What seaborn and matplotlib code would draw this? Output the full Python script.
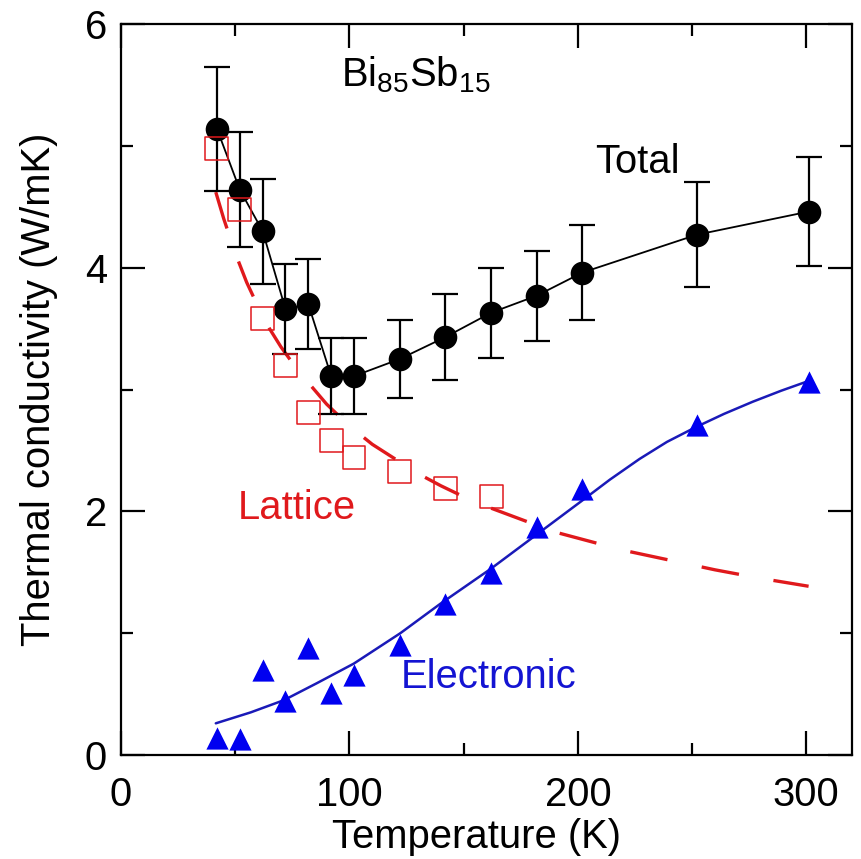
import matplotlib
matplotlib.use("Agg")
import matplotlib.pyplot as plt
import seaborn as sns
import numpy as np
import pandas as pd
from matplotlib.ticker import MultipleLocator

# ---------------- data ----------------
temperature = [42, 52, 62, 72, 82, 92, 102, 122, 142, 162, 182, 202, 252, 301]
total = [5.14, 4.64, 4.30, 3.66, 3.70, 3.11, 3.11, 3.25, 3.43, 3.63, 3.77, 3.96, 4.27, 4.46]
total_err = [0.51, 0.47, 0.43, 0.37, 0.37, 0.31, 0.31, 0.32, 0.35, 0.37, 0.37, 0.39, 0.43, 0.45]

lattice_T = [42, 52, 62, 72, 82, 92, 102, 122, 142, 162]
lattice = [4.98, 4.48, 3.58, 3.20, 2.81, 2.58, 2.44, 2.33, 2.19, 2.12]

electronic = [0.14, 0.13, 0.70, 0.44, 0.88, 0.51, 0.66, 0.90, 1.24, 1.49, 1.87, 2.18, 2.71, 3.06]

# fitted curves
lat_fit_T = [41.5, 45, 50, 55, 60, 65, 70, 75, 80, 90, 100, 110, 120, 130, 140, 150,
             160, 170, 180, 190, 200, 220, 240, 260, 280, 301]
lat_fit = [4.62, 4.40, 4.12, 3.88, 3.68, 3.50, 3.35, 3.22, 3.10, 2.88, 2.70, 2.55, 2.43,
           2.31, 2.21, 2.12, 2.04, 1.97, 1.90, 1.83, 1.78, 1.68, 1.60, 1.52, 1.45, 1.385]

ele_fit_T = [41.5, 56.8, 71.3, 85.8, 101.9, 122.3, 139.7, 162, 182, 202, 214, 227, 239,
             251.5, 264, 276.6, 289, 301]
ele_fit = [0.26, 0.35, 0.45, 0.59, 0.75, 1.00, 1.24, 1.53, 1.81, 2.09, 2.26, 2.43, 2.57,
           2.69, 2.80, 2.90, 2.99, 3.07]

xticks_major = [0, 100, 200, 300]
yticks_major = [0, 2, 4, 6]

# ---------------- style ----------------
sns.set_theme(style="ticks")
plt.rcParams['font.family'] = ['Liberation Sans', 'DejaVu Sans']
plt.rcParams['mathtext.fontset'] = 'custom'
plt.rcParams['mathtext.rm'] = 'Liberation Sans'
plt.rcParams['mathtext.it'] = 'Liberation Sans:italic'
plt.rcParams['mathtext.bf'] = 'Liberation Sans:bold'
plt.rcParams['mathtext.default'] = 'regular'

FS = 28.8
RED = '#e0191c'
BLUE = '#0000f0'
BLUE_LINE = '#1a1ab8'

fig = plt.figure(figsize=(8.61, 8.59), dpi=100)
ax = fig.add_axes([121 / 861, 1 - 755 / 859, (852 - 121) / 861, (755 - 24) / 859])

df_tot = pd.DataFrame({'T': temperature, 'k': total, 'err': total_err})
df_lat = pd.DataFrame({'T': lattice_T, 'k': lattice})
df_ele = pd.DataFrame({'T': temperature, 'k': electronic})
df_latfit = pd.DataFrame({'T': lat_fit_T, 'k': lat_fit})
df_elefit = pd.DataFrame({'T': ele_fit_T, 'k': ele_fit})

# fitted curves
sns.lineplot(data=df_latfit, x='T', y='k', ax=ax, color=RED, lw=2.4, sort=False,
             dashes=False, zorder=2).lines[-1].set_dashes((11.4, 10.5))
sns.lineplot(data=df_elefit, x='T', y='k', ax=ax, color=BLUE_LINE, lw=1.8, sort=False, zorder=2)

# total: error bars + line + circles
ax.errorbar(df_tot['T'], df_tot['k'], yerr=df_tot['err'], fmt='none', ecolor='black',
            elinewidth=1.6, capsize=9.4, capthick=1.6, zorder=3)
sns.lineplot(data=df_tot, x='T', y='k', ax=ax, color='black', lw=1.3, sort=False,
             marker='o', markersize=17, markeredgewidth=0, zorder=4)

# lattice squares (open)
sns.scatterplot(data=df_lat, x='T', y='k', ax=ax, marker='s', s=16.5 ** 2,
                facecolor='none', edgecolor=RED, linewidth=1.1, zorder=5)

# electronic triangles
sns.scatterplot(data=df_ele, x='T', y='k', ax=ax, marker='^', s=16 ** 2,
                color=BLUE, edgecolor=BLUE, linewidth=0, zorder=5)

# labels inside the plot
ax.text(96.1, 5.49, r'Bi$_{85}$Sb$_{15}$', fontsize=FS, color='black', va='baseline', ha='left')
ax.text(207.4, 4.78, 'Total', fontsize=FS, color='black', va='baseline', ha='left')
ax.text(51.1, 1.94, 'Lattice', fontsize=FS, color=RED, va='baseline', ha='left')
ax.text(122.3, 0.55, 'Electronic', fontsize=FS, color='#1414d2', va='baseline', ha='left')

# axes
ax.set_xlim(0, 320)
ax.set_ylim(0, 6)
ax.set_xticks(xticks_major)
ax.set_yticks(yticks_major)
ax.xaxis.set_minor_locator(MultipleLocator(50))
ax.yaxis.set_minor_locator(MultipleLocator(1))
ax.tick_params(which='both', direction='in', top=True, right=True, width=1.6,
               color='black', labelcolor='black', labelsize=FS)
ax.tick_params(which='major', length=17.3)
ax.tick_params(which='minor', length=8.6)
ax.tick_params(axis='x', which='major', pad=15)
ax.tick_params(axis='y', which='major', pad=10)
for sp in ax.spines.values():
    sp.set_linewidth(1.6)
    sp.set_color('black')
    sp.set_visible(True)

ax.set_xlabel('Temperature (K)', fontsize=FS, color='black', labelpad=3)
ax.xaxis.label.set_x(0.487)
ax.set_ylabel('Thermal conductivity (W/mK)', fontsize=FS, color='black')
ax.yaxis.set_label_coords(-0.086, 0.5)
ax.grid(False)
ax.set_facecolor('white')
fig.patch.set_facecolor('white')

fig.savefig('out.png', dpi=100)
